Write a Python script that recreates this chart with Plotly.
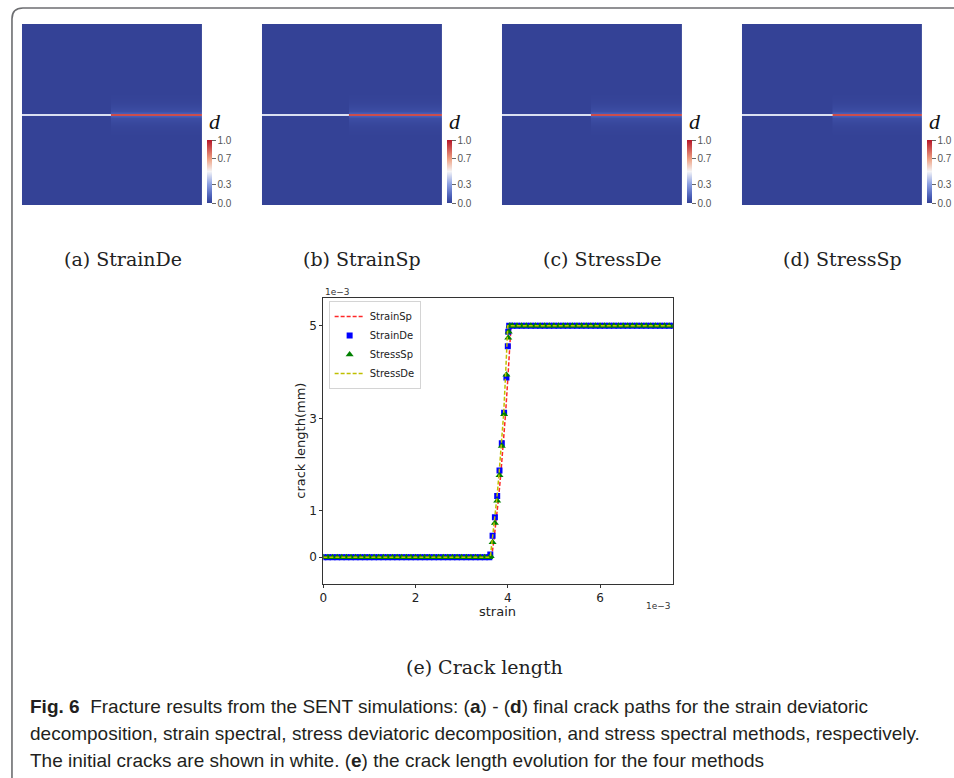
import plotly.graph_objects as go

W, H = 954, 778


def px(x):
    return x / W


def py(y):
    return 1 - y / H


# ---------------- data: damage field (panels a-d) ----------------
panel_titles = ["(a) StrainDe", "(b) StrainSp", "(c) StressDe", "(d) StressSp"]
# rows across the specimen height (0 bottom .. 1 top), crack at mid-height
field_y = [0.0, 0.38, 0.43, 0.46, 0.48, 0.49, 0.495, 0.5, 0.505, 0.51, 0.52, 0.54, 0.57, 0.62, 1.0]
# damage profile across the pre-existing (initial, white) crack
d_initial_crack = [0.0, 0.0, 0.0, 0.0, 0.0, 0.0, 0.45, 0.5, 0.45, 0.0, 0.0, 0.0, 0.0, 0.0, 0.0]
# damage profile across the propagated crack path
d_crack_path = [0.0, 0.0, 0.01, 0.025, 0.045, 0.1, 0.88, 1.0, 0.88, 0.1, 0.045, 0.025, 0.01, 0.0, 0.0]
# x-position of initial crack tip in each panel (fraction of width)
crack_tip_x = [0.49, 0.48, 0.49, 0.50]
cbar_tickvals = [0.0, 0.3, 0.7, 1.0]
cbar_ticktext = ["0.0", "0.3", "0.7", "1.0"]

# ---------------- data: crack length curves (panel e) ----------------
strain_low = [0.0, 0.1, 0.2, 0.3, 0.4, 0.5, 0.6, 0.7, 0.8, 0.9, 1.0, 1.1, 1.2, 1.3, 1.4, 1.5,
              1.6, 1.7, 1.8, 1.9, 2.0, 2.1, 2.2, 2.3, 2.4, 2.5, 2.6, 2.7, 2.8, 2.9, 3.0, 3.1,
              3.2, 3.3, 3.4, 3.5, 3.6]
length_low = [0.0, 0.0, 0.0, 0.0, 0.0, 0.0, 0.0, 0.0, 0.0, 0.0, 0.0, 0.0, 0.0, 0.0, 0.0, 0.0,
              0.0, 0.0, 0.0, 0.0, 0.0, 0.0, 0.0, 0.0, 0.0, 0.0, 0.0, 0.0, 0.0, 0.0, 0.0, 0.0,
              0.0, 0.0, 0.0, 0.0, 0.0]
strain_high = [4.1, 4.2, 4.3, 4.4, 4.5, 4.6, 4.7, 4.8, 4.9, 5.0, 5.1, 5.2, 5.3, 5.4, 5.5, 5.6,
               5.7, 5.8, 5.9, 6.0, 6.1, 6.2, 6.3, 6.4, 6.5, 6.6, 6.7, 6.8, 6.9, 7.0, 7.1, 7.2,
               7.3, 7.4, 7.5, 7.6]
length_high = [5.0, 5.0, 5.0, 5.0, 5.0, 5.0, 5.0, 5.0, 5.0, 5.0, 5.0, 5.0, 5.0, 5.0, 5.0, 5.0,
               5.0, 5.0, 5.0, 5.0, 5.0, 5.0, 5.0, 5.0, 5.0, 5.0, 5.0, 5.0, 5.0, 5.0, 5.0, 5.0,
               5.0, 5.0, 5.0, 5.0]

strainsp_rise_x = [3.65, 3.70, 3.75, 3.80, 3.85, 3.90, 3.95, 4.00, 4.04, 4.07]
strainsp_rise_y = [0.0, 0.38, 0.80, 1.28, 1.82, 2.42, 3.08, 3.85, 4.55, 5.0]
strainde_rise_x = [3.62, 3.67, 3.72, 3.77, 3.82, 3.87, 3.92, 3.97, 4.00, 4.01, 4.03]
strainde_rise_y = [0.06, 0.46, 0.86, 1.32, 1.87, 2.46, 3.12, 3.88, 4.56, 4.87, 5.0]
stresssp_rise_x = [3.63, 3.67, 3.72, 3.77, 3.82, 3.87, 3.92, 3.97, 4.01, 4.02, 4.04]
stresssp_rise_y = [0.02, 0.32, 0.74, 1.22, 1.77, 2.40, 3.09, 3.94, 4.74, 4.87, 5.0]
stressde_rise_x = [3.62, 3.66, 3.71, 3.76, 3.81, 3.86, 3.91, 3.95, 3.98, 4.00]
stressde_rise_y = [0.0, 0.35, 0.78, 1.25, 1.80, 2.42, 3.10, 3.90, 4.60, 5.0]

x_ticks = [0, 2, 4, 6]
y_ticks = [0, 1, 3, 5]

caption_e = "(e) Crack length"
fig_caption_lines = [
    "<b>Fig. 6</b>  Fracture results from the SENT simulations: (<b>a</b>) - (<b>d</b>) final crack paths for the strain deviatoric",
    "decomposition, strain spectral, stress deviatoric decomposition, and stress spectral methods, respectively.",
    "The initial cracks are shown in white. (<b>e</b>) the crack length evolution for the four methods",
]

# ---------------- figure ----------------
colorscale = [
    [0.0, "rgb(52,66,150)"],
    [0.1, "rgb(72,92,182)"],
    [0.3, "rgb(140,160,226)"],
    [0.5, "rgb(244,244,246)"],
    [0.7, "rgb(238,160,130)"],
    [1.0, "rgb(182,22,40)"],
]

fig = go.Figure()
layout = dict(
    width=W, height=H, autosize=False,
    margin=dict(l=0, r=0, t=0, b=0),
    paper_bgcolor="white", plot_bgcolor="white",
    showlegend=True,
)

serif_caption = dict(family="DejaVu Serif", size=19, color="#222")

annotations = []
step = 241
for i in range(4):
    n = i + 1
    x0 = 18 + step * i
    tip = crack_tip_x[i]
    cols_x = [0.0, tip - 0.004, tip + 0.004, 1.0]
    z = [[dl, dl, dr, dr] for dl, dr in zip(d_initial_crack, d_crack_path)]
    fig.add_trace(go.Heatmap(
        x=cols_x, y=field_y, z=z, zmin=0, zmax=1, zsmooth="best",
        colorscale=colorscale, xaxis=f"x{n}", yaxis=f"y{n}", showlegend=False,
        hoverinfo="skip",
        colorbar=dict(
            x=px(x0 + 186), xanchor="left", y=py(171.5), yanchor="middle",
            len=63, lenmode="pixels", thickness=5, thicknessmode="pixels",
            xpad=0, ypad=0, outlinewidth=0,
            tickvals=cbar_tickvals, ticktext=cbar_ticktext,
            ticks="outside", ticklen=4, tickwidth=1, tickcolor="#666",
            tickfont=dict(family="Liberation Sans", size=10, color="#555"),
        ),
    ))
    layout[f"xaxis{n}"] = dict(domain=[px(x0), px(x0 + 181)], range=[0, 1], visible=False,
                               anchor=f"y{n}", fixedrange=True)
    layout[f"yaxis{n}"] = dict(domain=[py(205), py(24)], range=[0, 1], visible=False,
                               anchor=f"x{n}", fixedrange=True)
    annotations.append(dict(text="<i>d</i>", x=px(x0 + 194), y=py(121), xref="paper", yref="paper",
                            showarrow=False, xanchor="center", yanchor="middle",
                            font=dict(family="Liberation Serif", size=22, color="#111")))
    annotations.append(dict(text=panel_titles[i], x=px(119 + step * i), y=py(259), xref="paper",
                            yref="paper", showarrow=False, xanchor="center", yanchor="middle",
                            font=serif_caption))

# line chart traces
ax = dict(xaxis="x5", yaxis="y5")
fig.add_trace(go.Scatter(
    x=strain_low + strainsp_rise_x + strain_high, y=length_low + strainsp_rise_y + length_high,
    mode="lines", name="StrainSp", line=dict(color="rgb(255,40,40)", width=1.5, dash="4px,2px"), **ax))
fig.add_trace(go.Scatter(
    x=strain_low + strainde_rise_x + strain_high, y=length_low + strainde_rise_y + length_high,
    mode="markers", name="StrainDe", marker=dict(symbol="square", size=6, color="#0000ff"), **ax))
fig.add_trace(go.Scatter(
    x=strain_low + stresssp_rise_x + strain_high, y=length_low + stresssp_rise_y + length_high,
    mode="markers", name="StressSp", marker=dict(symbol="triangle-up", size=7, color="#008000"), **ax))
fig.add_trace(go.Scatter(
    x=strain_low + stressde_rise_x + strain_high, y=length_low + stressde_rise_y + length_high,
    mode="lines", name="StressDe", line=dict(color="rgb(191,191,0)", width=1.5, dash="4px,2px"), **ax))

tickfont = dict(family="DejaVu Sans", size=12, color="#222")
layout["xaxis5"] = dict(domain=[px(320.7), px(671.7)], range=[0, 7.58], anchor="y5",
                        tickvals=x_ticks, ticktext=[str(v) for v in x_ticks],
                        showline=True, mirror=True, linecolor="#333", linewidth=1,
                        ticks="outside", ticklen=3, tickcolor="#333", tickfont=tickfont,
                        showgrid=False, zeroline=False, fixedrange=True)
layout["yaxis5"] = dict(domain=[py(584), py(298)], range=[-0.58, 5.6], anchor="x5",
                        tickvals=y_ticks, ticktext=[str(v) for v in y_ticks],
                        showline=True, mirror=True, linecolor="#333", linewidth=1,
                        ticks="outside", ticklen=3, tickcolor="#333", tickfont=tickfont,
                        showgrid=False, zeroline=False, fixedrange=True)
layout["legend"] = dict(x=px(326), y=py(301), xanchor="left", yanchor="top",
                        bgcolor="rgba(255,255,255,0.9)", bordercolor="#d4d4d4", borderwidth=1,
                        font=dict(family="DejaVu Sans", size=10, color="#222"),
                        itemwidth=30, tracegroupgap=0)

small = dict(family="DejaVu Sans", size=9, color="#333")
annotations += [
    dict(text="1e\u22123", x=px(320), y=py(292), xref="paper", yref="paper", showarrow=False,
         xanchor="left", yanchor="middle", font=small),
    dict(text="1e\u22123", x=px(672), y=py(606), xref="paper", yref="paper", showarrow=False,
         xanchor="right", yanchor="middle", font=small),
    dict(text="strain", x=px(496), y=py(611), xref="paper", yref="paper", showarrow=False,
         xanchor="center", yanchor="middle", font=dict(family="DejaVu Sans", size=13, color="#222")),
    dict(text="crack length(mm)", x=px(297), y=py(441), xref="paper", yref="paper", showarrow=False,
         xanchor="center", yanchor="middle", textangle=-90,
         font=dict(family="DejaVu Sans", size=13, color="#222")),
    dict(text=caption_e, x=px(483), y=py(667), xref="paper", yref="paper", showarrow=False,
         xanchor="center", yanchor="middle", font=serif_caption),
]
for k, line in enumerate(fig_caption_lines):
    annotations.append(dict(text=line, x=px(24), y=py(706 + 27 * k), xref="paper", yref="paper",
                            showarrow=False, xanchor="left", yanchor="middle",
                            font=dict(family="Liberation Sans", size=19, color="#231f20")))

layout["annotations"] = annotations
layout["shapes"] = [dict(
    type="path", xref="paper", yref="paper",
    path=(f"M {px(8)},{py(780)} L {px(8)},{py(19)} Q {px(8)},{py(8)} {px(19)},{py(8)} "
          f"L {px(956)},{py(8)}"),
    line=dict(color="#6d6e71", width=1.6),
)]
fig.update_layout(**layout)
fig.write_html("out.html")
